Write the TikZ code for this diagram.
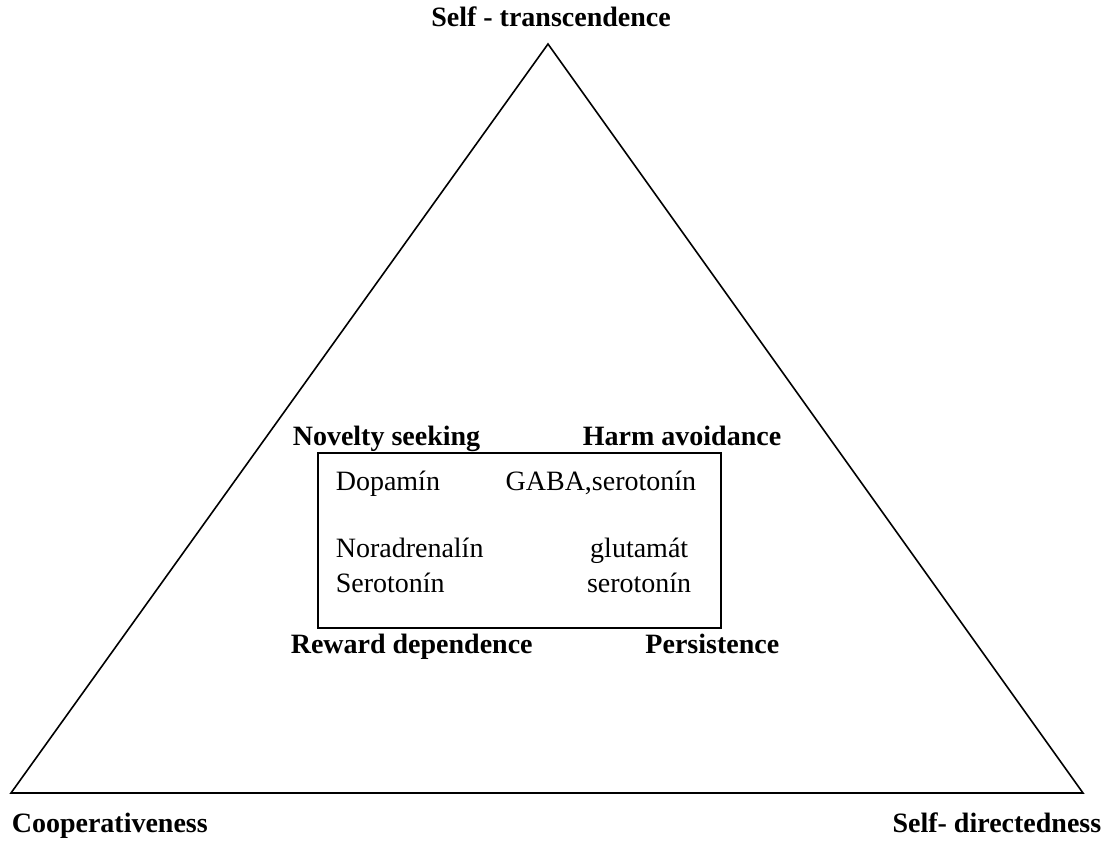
\documentclass[tikz,border=0pt]{standalone}
\usepackage{fontspec}
\setmainfont{Liberation Serif}
\usetikzlibrary{positioning}

\begin{document}
\begin{tikzpicture}[x=0.5pt,y=-0.5pt,line width=0.8pt,inner sep=0pt,
    font=\fontsize{14}{17}\selectfont]
          \tikzstyle{trait}=[font=\fontsize{14}{17}\selectfont\bfseries]
          \useasboundingbox (0,0) rectangle (1108,844);
          \coordinate (top) at (548,44);
          \coordinate (left) at (11,793);
          \coordinate (right) at (1083,793);
          \draw (top) -- (right) -- (left) -- cycle;
          \node[trait,anchor=base] (st) at (551,27) {Self - transcendence};
          \node[trait,anchor=base west] (co) at (11,832) {Cooperativeness};
          \node[trait,anchor=base east] (sd) at (1102,832) {Self- directedness};
          \draw (318,453) rectangle (721,628);
          \node[trait,anchor=base west] (ns) at (292,445) {Novelty seeking};
          \node[trait,anchor=base east] (ha) at (782,445) {Harm avoidance};
          \node[trait,anchor=base west] (rd) at (290,653) {Reward dependence};
          \node[trait,anchor=base east] (pe) at (780,653) {Persistence};
          \node[anchor=base west] (dop) at (335,490) {Dopamín};
          \node[anchor=base east] (gaba) at (697,490) {GABA,serotonín};
          \node[anchor=base west] (nor) at (335,557) {Noradrenalín};
          \node[anchor=base west] (ser) at (335,592) {Serotonín};
          \node[anchor=base east] (glu) at (689,557) {glutamát};
          \node[anchor=base east] (ser2) at (692,592) {serotonín};
      \end{tikzpicture}
\end{document}
